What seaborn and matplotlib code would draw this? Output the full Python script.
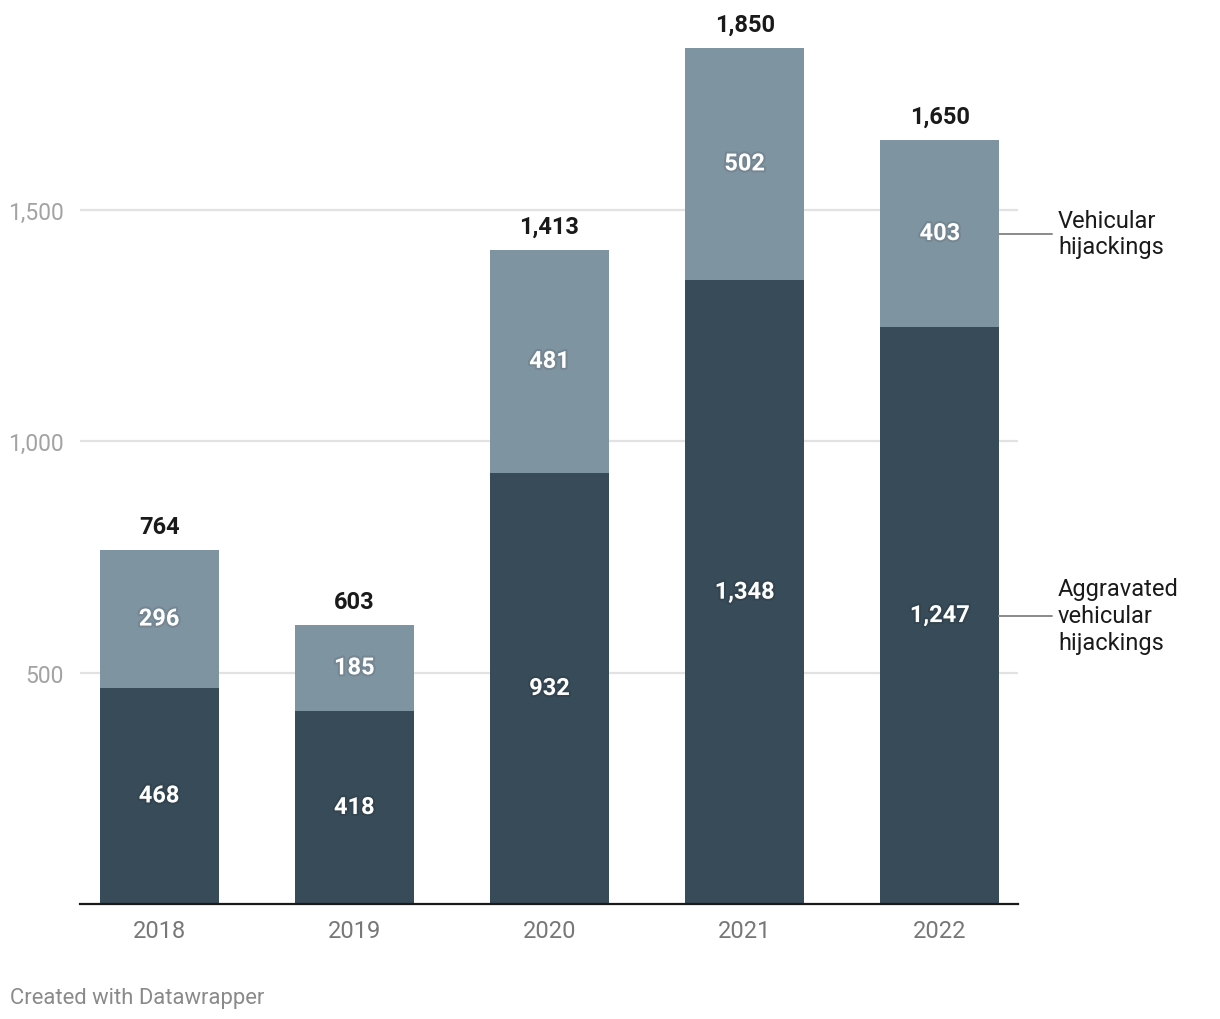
import matplotlib
matplotlib.use("Agg")
import matplotlib.pyplot as plt
import matplotlib.patheffects as pe
import seaborn as sns
import numpy as np
import pandas as pd

# === Data ===
years = ["2018", "2019", "2020", "2021", "2022"]
aggravated = [468, 418, 932, 1348, 1247]
vehicular = [296, 185, 481, 502, 403]
yticks = [500, 1000, 1500]

df = pd.DataFrame({"year": years, "aggravated": aggravated, "vehicular": vehicular})
df["total"] = df["aggravated"] + df["vehicular"]

dark = "#384b58"
light = "#7f94a1"

sns.set_theme(style="white")
plt.rcParams["font.family"] = ["Roboto", "DejaVu Sans"]

fig = plt.figure(figsize=(12.2, 10.2), dpi=100)
ax = fig.add_axes([0.0656, 0.1125, 0.7688, 0.8398])

# stacked bars: total (light) underneath, aggravated (dark) on top
sns.barplot(data=df, x="year", y="total", color=light, width=0.61,
            saturation=1, linewidth=0, ax=ax, zorder=2)
sns.barplot(data=df, x="year", y="aggravated", color=dark, width=0.61,
            saturation=1, linewidth=0, ax=ax, zorder=3)

ax.set_xlim(-0.405, len(years) - 1 + 0.4)
ax.set_ylim(0, df["total"].max())
ax.set_yticks(yticks)
ax.set_yticklabels([f"{v:,}" for v in yticks])
ax.yaxis.grid(True, color="#e2e2e2", linewidth=1.6, zorder=0)
ax.set_axisbelow(True)
ax.set_xlabel("")
ax.set_ylabel("")

for s in ["top", "right", "left"]:
    ax.spines[s].set_visible(False)
ax.spines["bottom"].set_color("#1a1a1a")
ax.spines["bottom"].set_linewidth(1.6)
ax.spines["bottom"].set_zorder(5)

ax.tick_params(axis="y", length=0, pad=12, labelsize=16.5, labelcolor="#a3a3a3")
ax.tick_params(axis="x", length=0, pad=10.5, labelsize=17, labelcolor="#777777")

shadow = [pe.withStroke(linewidth=3, foreground="#000000", alpha=0.09)]

for i, row in df.iterrows():
    ax.text(i, row["aggravated"] / 2, f"{row['aggravated']:,}", ha="center",
            va="center", color="white", fontsize=17, fontweight="bold",
            path_effects=shadow, zorder=6)
    ax.text(i, row["aggravated"] + row["vehicular"] / 2, f"{row['vehicular']:,}",
            ha="center", va="center", color="white", fontsize=17,
            fontweight="bold", path_effects=shadow, zorder=6)
    ax.annotate(f"{row['total']:,}", xy=(i, row["total"]), xytext=(0, 17),
                textcoords="offset points", ha="center", va="center",
                color="#1a1a1a", fontsize=17, fontweight="bold",
                annotation_clip=False)

# direct labels next to the last bar
last = len(years) - 1
lab_y = [df["aggravated"].iloc[-1] + df["vehicular"].iloc[-1] / 2,
         df["aggravated"].iloc[-1] / 2]
lab_txt = ["Vehicular\nhijackings", "Aggravated\nvehicular\nhijackings"]
for yv, txt in zip(lab_y, lab_txt):
    ax.plot([last + 0.305, last + 0.574], [yv, yv], color="#8a8a8a",
            linewidth=1.4, clip_on=False, zorder=4)
    ax.text(last + 0.605, yv, txt, ha="left", va="center", fontsize=17,
            color="#1a1a1a", linespacing=1.2, clip_on=False)

fig.text(0.008, 0.021, "Created with Datawrapper", fontsize=15.8,
         color="#8a8a8a", ha="left", va="center")

fig.savefig("out.png", dpi=100, facecolor="white")
